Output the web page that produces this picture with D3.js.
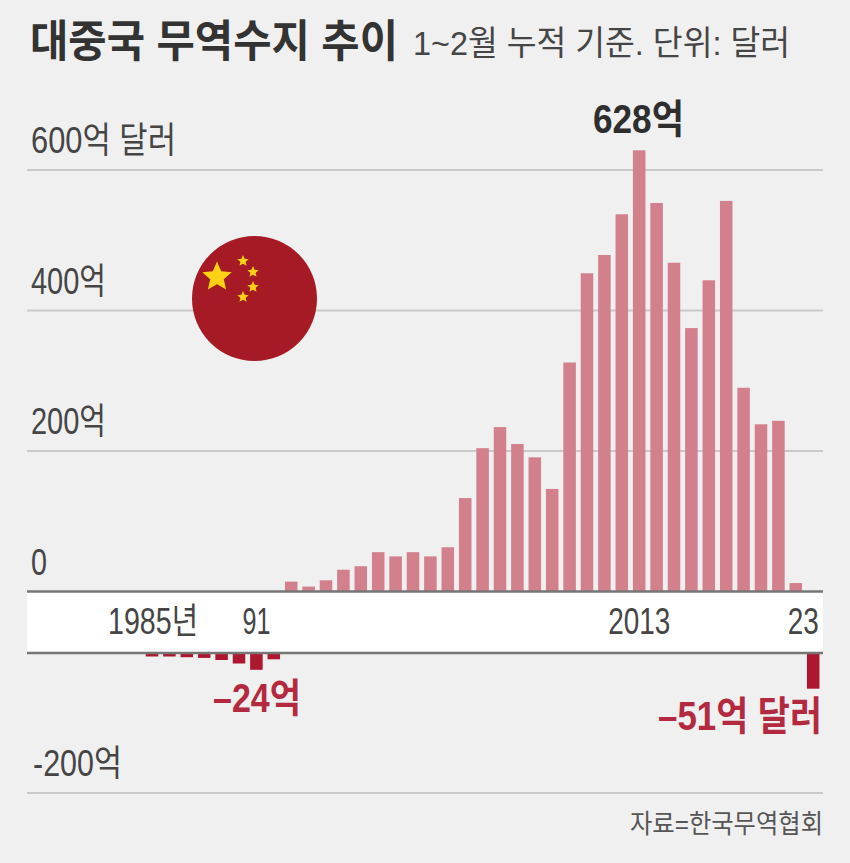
<!DOCTYPE html>
<html>
<head>
<meta charset="utf-8">
<script src="https://cdn.jsdelivr.net/npm/d3@7"></script>
<style>
  html, body { margin: 0; padding: 0; background: #f0f0f0; }
  svg { display: block; }
  text { font-family: "Liberation Sans", "Noto Sans CJK KR", sans-serif; }
</style>
</head>
<body>
<svg id="chart" width="850" height="863"></svg>
<script>
// values in 억 달러, Jan-Feb cumulative
const years = d3.range(1985, 2024);
const balance = [
  -5, -5, -6, -7, -10, -15, -24, -9,
  14, 7, 16, 31, 36, 56, 50, 56, 50, 63,
  133, 204, 234, 210, 191, 146, 326, 453, 479, 537,
  628, 553, 468, 375, 443, 556, 290, 238, 243, 12, -51
];
const yTicks = [600, 400, 200, -200];
const yTickLabels = ['600억 달러', '400억', '200억', '-200억'];
const yTickWidths = [145, 75, 75, 89];
const xTickYears = [1985, 1991, 2013, 2023];
const xTickLabels = ['1985년', '91', '2013', '23'];
const xTickWidths = [90, 28, 62, 31];
const xTickShift = [1, 0, 0, -10];

const svg = d3.select('#chart');
const textColor = '#454545';
const redText = '#b32a40';

// one x scale, two y scales because the axis is cut by the white year band
const x = d3.scaleBand().domain(years).range([143.3, 821.9]).paddingInner(0.28).paddingOuter(0.14);
const yPos = d3.scaleLinear().domain([0, 600]).range([591.5, 170]);
const yNeg = d3.scaleLinear().domain([-200, 0]).range([793, 653]);
const yOf = v => v >= 0 ? yPos(v) : yNeg(v);
const left = 27, right = 823;

// stretch or squeeze text to the width it has in the reference
const label = (xPos, y, str, size, width, opts = {}) => svg.append('text')
  .attr('x', xPos)
  .attr('y', y)
  .attr('font-size', size)
  .attr('font-weight', opts.weight || 400)
  .attr('fill', opts.fill || textColor)
  .attr('text-anchor', opts.anchor || 'start')
  .attr('textLength', width)
  .attr('lengthAdjust', 'spacingAndGlyphs')
  .text(str);

svg.append('rect').attr('width', 850).attr('height', 863).attr('fill', '#f0f0f0');

// gridlines
svg.selectAll('.grid')
  .data(yTicks)
  .join('line')
  .attr('class', 'grid')
  .attr('x1', left)
  .attr('x2', right)
  .attr('y1', d => yOf(d))
  .attr('y2', d => yOf(d))
  .attr('stroke', '#c9c9c9')
  .attr('stroke-width', 2);

// white band between the two zero lines
svg.append('rect')
  .attr('x', left)
  .attr('y', yPos(0))
  .attr('width', right - left)
  .attr('height', yNeg(0) - yPos(0))
  .attr('fill', '#ffffff');

// flag sits over the 400 gridline
const flag = svg.append('g').attr('transform', 'translate(254.5,298.5)');
flag.append('circle').attr('r', 62.5).attr('fill', '#a61a26');
const starPath = r => {
  const pts = d3.range(10).map(i => {
    const a = -Math.PI / 2 + i * Math.PI / 5;
    const rad = i % 2 ? r * 0.46 : r;
    return [rad * Math.cos(a), rad * Math.sin(a)];
  });
  return d3.line()(pts) + 'Z';
};
const starSpots = [[-37.5, -21.5, 15.5], [-11.5, -37.5, 6], [-1.5, -26.5, 6], [-1.5, -11.5, 6], [-11.5, -1.5, 6]];
flag.selectAll('path')
  .data(starSpots)
  .join('path')
  .attr('transform', d => `translate(${d[0]},${d[1]})`)
  .attr('d', d => starPath(d[2]))
  .attr('fill', '#fcd116');

// bars
svg.selectAll('.bar')
  .data(years.map((year, i) => ({ year, value: balance[i] })))
  .join('rect')
  .attr('class', 'bar')
  .attr('x', d => x(d.year))
  .attr('width', x.bandwidth())
  .attr('y', d => d.value >= 0 ? yPos(d.value) : yNeg(0))
  .attr('height', d => d.value >= 0 ? yPos(0) - yPos(d.value) : yNeg(d.value) - yNeg(0))
  .attr('fill', d => d.value >= 0 ? '#d3808d' : '#ae1730');

// the two zero lines
svg.selectAll('.zero')
  .data([yPos(0), yNeg(0)])
  .join('line')
  .attr('class', 'zero')
  .attr('x1', left)
  .attr('x2', right)
  .attr('y1', d => d)
  .attr('y2', d => d)
  .attr('stroke', '#767676')
  .attr('stroke-width', 2.4);

// title
label(30, 57, '대중국 무역수지 추이', 44, 368, { weight: 700, fill: '#333333' });
label(413, 55, '1~2월 누적 기준. 단위: 달러', 34, 377);

// y labels
yTicks.forEach((t, i) => {
  label(t < 0 ? 33 : 31, yOf(t) + (t < 0 ? -17 : -17), yTickLabels[i], 36, yTickWidths[i]);
});
label(31, yPos(0) - 17, '0', 36, 16);

// x labels
xTickYears.forEach((yr, i) => {
  label(x(yr) + x.bandwidth() / 2 + xTickShift[i], 634, xTickLabels[i], 36, xTickWidths[i], { anchor: 'middle' });
});

// callouts
label(593, 133, '628억', 40, 91, { weight: 700, fill: '#2e2e2e' });
label(213, 712, '–24억', 40, 88, { weight: 700, fill: redText });
label(658, 730, '–51억 달러', 40, 164, { weight: 700, fill: redText });

label(630, 833, '자료=한국무역협회', 26, 193, { fill: '#555555' });
</script>
</body>
</html>
